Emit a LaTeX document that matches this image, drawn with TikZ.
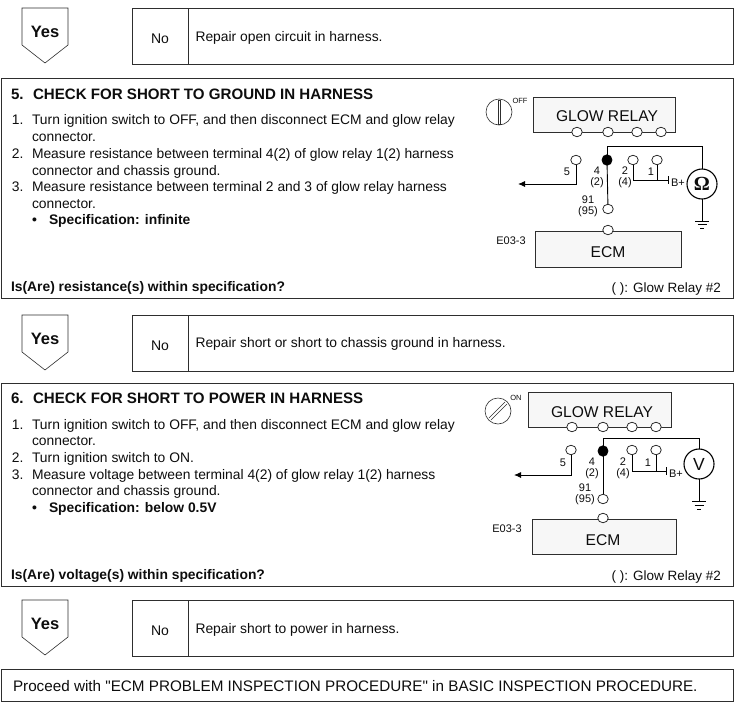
\documentclass[tikz,border=0pt]{standalone}
\usepackage{fontspec}
\setmainfont{Liberation Sans}
\newfontfamily\plainf{Liberation Sans}
\usetikzlibrary{arrows.meta,shapes.geometric}
\definecolor{ln}{gray}{0.18}
\definecolor{tx}{gray}{0.05}
\tikzset{
 x=1pt,y=-1pt,
 every node/.style={text=tx,inner sep=0pt,outer sep=0pt},
 frame/.style={draw=ln,line width=0.9pt},
 yesbox/.style={draw=ln,line width=0.6pt,fill=white},
 body/.style={anchor=base west,font=\fontsize{13.85}{15}\selectfont},
 bodyb/.style={anchor=base west,font=\fontsize{13.85}{15}\selectfont\bfseries},
 head/.style={anchor=base west,font=\fontsize{15.1}{16}\selectfont\bfseries},
 yeslab/.style={font=\fontsize{16.5}{18}\selectfont\bfseries},
 nolab/.style={font=\fontsize{14}{16}\selectfont},
 term/.style={draw=ln,line width=0.8pt,fill=white,ellipse,minimum width=10.5pt,minimum height=9.5pt},
 termb/.style={term,draw=black,fill=black,minimum width=10pt,minimum height=10.5pt},
 wire/.style={draw=black,line width=0.9pt},
 unit/.style={draw=ln,line width=0.9pt,fill=black!3},
 small/.style={font=\fontsize{11}{11.4}\selectfont,align=center},
 title/.style={font=\fontsize{15.6}{17}\selectfont},
 meter/.style={draw=black,line width=1.1pt,fill=white,circle,minimum size=30pt},
 note/.style={anchor=base east,font=\fontsize{13.5}{15}\selectfont},
}
\newcommand{\yesno}[3]{% top y, text, text y offset
 \draw[yesbox] (22,#1) -- (68,#1) -- (68,#1+37) -- (45,#1+55) -- (22,#1+37) -- cycle;
 \node[yeslab] at (45,#1+24) {Yes};
 \draw[frame,line width=0.7pt] (132,#1) rectangle (733,#1+56);
 \draw[frame,line width=0.7pt] (188.5,#1) -- (188.5,#1+56);
 \node[nolab] at (160,#1+30.5) {No};
 \node[body] at (195.5,#1+#3) {#2};
}
\begin{document}
\begin{tikzpicture}
\useasboundingbox (0,0) rectangle (734,702);
\yesno{8}{Repair open circuit in harness.}{33}
\yesno{315}{Repair short or short to chassis ground in harness.}{32.5}
\yesno{600}{Repair short to power in harness.}{33}

% section 5
\draw[frame] (1,78) rectangle (733,298);
\node[head] at (11,99) {5.};
\node[head] at (33,99) {CHECK FOR SHORT TO GROUND IN HARNESS};
\node[body] at (12,124) {1.};
\node[body] at (32,124) {Turn ignition switch to OFF, and then disconnect ECM and glow relay};
\node[body] at (32,141) {connector.};
\node[body] at (12,158) {2.};
\node[body] at (32,158) {Measure resistance between terminal 4(2) of glow relay 1(2) harness};
\node[body] at (32,175) {connector and chassis ground.};
\node[body] at (12,191) {3.};
\node[body] at (32,191) {Measure resistance between terminal 2 and 3 of glow relay harness};
\node[body] at (32,208) {connector.};
\node[bodyb] at (32,224) {•};
\node[bodyb] at (49,224) {Specification: infinite};
\node[bodyb] at (11,291) {Is(Are) resistance(s) within specification?};
\node[note] at (721,292) {( ): Glow Relay \#2};

\draw[unit] (533,97) rectangle (675,132);
\node[title] at (607,116) {GLOW RELAY};
\node[term] (ar1) at (577,132) {};
\node[term] (ar2) at (608,132) {};
\node[term] (ar3) at (637,132) {};
\node[term] (ar4) at (661,132) {};
\node[draw=ln,line width=0.6pt,circle,minimum size=26pt] (asw) at (499,112) {};
\draw[ln,line width=0.6pt] (498,100) rectangle (500.5,124);
\node[font=\fontsize{7.5}{8}\selectfont] at (520,100.5) {OFF};
\node[term] (at5) at (576,160) {};
\node[termb] (at4) at (607,160) {};
\node[term] (at2) at (633,160) {};
\node[term] (at1) at (657,160) {};
\node[term] (at91) at (608,209) {};
\node[meter] (aom) at (702,184) {\fontspec{Liberation Serif}\fontsize{20}{22}\selectfont\bfseries Ω};
\coordinate (agnd) at (702,221);
\coordinate (aar) at (518,184);
\coordinate (abp) at (668,180);
\draw[wire] (at4) -- (607,146) -- (702,146) -- (aom);
\draw[wire] (at4) -- (at91);
\draw[wire] (aom) -- (agnd);
\draw[wire] (695,221) -- (709,221) (697.5,224.5) -- (706.5,224.5) (700,228) -- (704,228);
\draw[wire,-{Latex[length=7pt,width=6pt]}] (at5) -- (576,184) -- (aar);
\draw[wire] (at2) -- (633,180) -- (abp);
\draw[wire] (at1) -- (657,180);
\draw[wire] (668,176) -- (668,184);
\node[small,anchor=west] at (671,183) {B+};
\node[small] at (567,172) {5};
\node[small] at (597,177.5) {4\\(2)};
\node[small] at (625,177.5) {2\\(4)};
\node[small] at (651,172) {1};
\node[small] at (588,206.5) {91\\(95)};
\draw[unit] (535,231) rectangle (681,267);
\node[term] (aecm) at (608,230) {};
\node[title] at (608,252) {ECM};
\node[small] at (511,241) {E03-3};

% section 6
\draw[frame] (1,383) rectangle (733,586);
\node[head] at (11,403) {6.};
\node[head] at (33,403) {CHECK FOR SHORT TO POWER IN HARNESS};
\node[body] at (12,429) {1.};
\node[body] at (32,429) {Turn ignition switch to OFF, and then disconnect ECM and glow relay};
\node[body] at (32,445) {connector.};
\node[body] at (12,462) {2.};
\node[body] at (32,462) {Turn ignition switch to ON.};
\node[body] at (12,479) {3.};
\node[body] at (32,479) {Measure voltage between terminal 4(2) of glow relay 1(2) harness};
\node[body] at (32,495) {connector and chassis ground.};
\node[bodyb] at (32,512) {•};
\node[bodyb] at (49,512) {Specification: below 0.5V};
\node[bodyb] at (11,579) {Is(Are) voltage(s) within specification?};
\node[note] at (721,580) {( ): Glow Relay \#2};

\draw[unit] (528,392) rectangle (671,427);
\node[title] at (602,412) {GLOW RELAY};
\node[term] (br1) at (572,427) {};
\node[term] (br2) at (603,427) {};
\node[term] (br3) at (632,427) {};
\node[term] (br4) at (656,427) {};
\node[draw=ln,line width=0.6pt,circle,minimum size=26pt] (bsw) at (498,411) {};
\draw[ln,line width=0.6pt] (489,418) -- (505,402) (491,420) -- (507,404);
\node[font=\fontsize{7.5}{8}\selectfont] at (516,398) {ON};
\node[term] (bt5) at (571,450) {};
\node[termb] (bt4) at (603,451) {};
\node[term] (bt2) at (632,450) {};
\node[term] (bt1) at (656,450) {};
\node[term] (bt91) at (603,499) {};
\node[meter] (bv) at (699,464) {\fontsize{17.5}{19}\selectfont V};
\coordinate (bgnd) at (699,501);
\coordinate (bar) at (514,475);
\coordinate (bbp) at (666,471);
\draw[wire] (bt4) -- (603,438) -- (699,438) -- (bv);
\draw[wire] (bt4) -- (bt91);
\draw[wire] (bv) -- (bgnd);
\draw[wire] (692,501) -- (706,501) (694.5,505) -- (703.5,505) (697,509) -- (701,509);
\draw[wire,-{Latex[length=7pt,width=6pt]}] (bt5) -- (571,475) -- (bar);
\draw[wire] (bt2) -- (632,471) -- (bbp);
\draw[wire] (bt1) -- (656,471);
\draw[wire] (666,467) -- (666,475);
\node[small,anchor=west] at (669,474) {B+};
\node[small] at (563,463) {5};
\node[small] at (592,468.5) {4\\(2)};
\node[small] at (623,468.5) {2\\(4)};
\node[small] at (648,463) {1};
\node[small] at (585,494) {91\\(95)};
\draw[unit] (532,519) rectangle (676,554);
\node[term] (becm) at (603,518) {};
\node[title] at (603,540) {ECM};
\node[small] at (507,529) {E03-3};

% final
\draw[frame] (1,669) rectangle (733,701);
\node[anchor=base west,font=\plainf\fontsize{15.25}{17}\selectfont] at (13,691) {Proceed with "ECM PROBLEM INSPECTION PROCEDURE" in BASIC INSPECTION PROCEDURE.};
\end{tikzpicture}
\end{document}
